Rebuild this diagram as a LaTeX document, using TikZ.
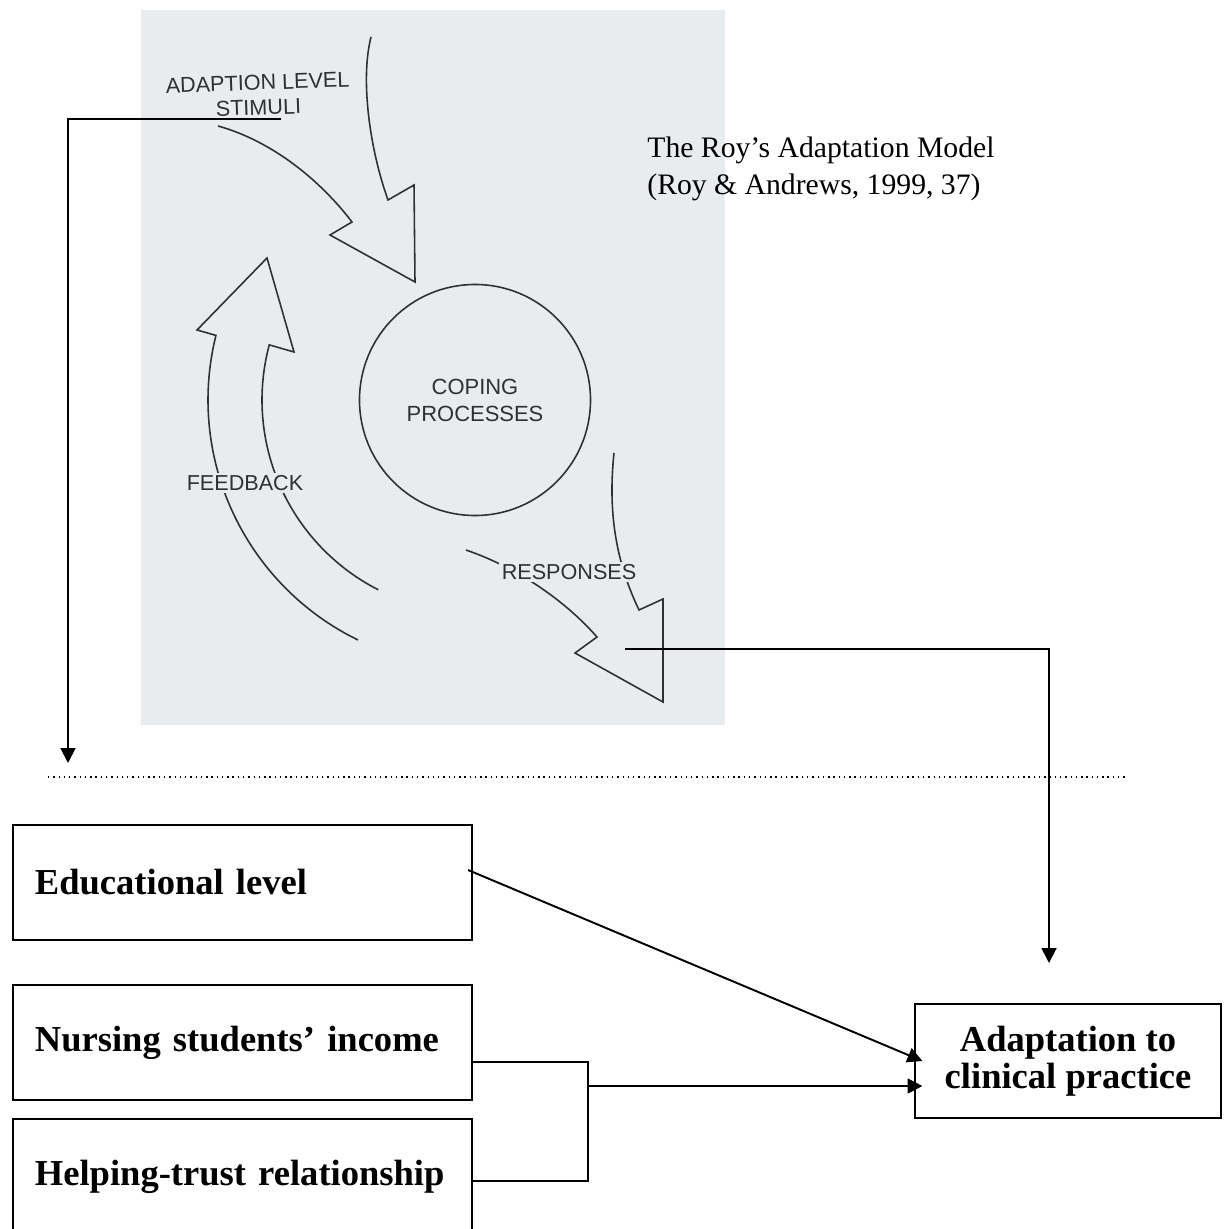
\documentclass[tikz,border=0pt]{standalone}
\usepackage{fontspec}
\setmainfont{Liberation Serif}
\newfontfamily\scanfont{Liberation Sans}
\usepackage{tikz}
\usetikzlibrary{arrows.meta,calc}
\definecolor{scangray}{HTML}{E8ECEF}
\definecolor{scanink}{HTML}{303030}

\begin{document}
\begin{tikzpicture}[x=0.02cm, y=-0.02cm,
		scanline/.style={draw=scanink, line width=0.9pt, line join=miter},
		scanlabel/.style={font=\scanfont\fontsize{12.3}{14.2}\selectfont, text=scanink, align=center, inner sep=1.5pt},
		box/.style={draw, line width=1.1pt, minimum height=65.2pt, text width=236.3pt, inner xsep=12.5pt, align=left, font=\bfseries\fontsize{20.8}{21}\selectfont},
		link/.style={line width=1.1pt, -{Triangle[length=8.5pt, width=8.5pt]}}]
		\useasboundingbox (0,0) rectangle (1225,1229);
		\clip (0,0) rectangle (1225,1229);
		% scanned model
		\fill[scangray] (141,10) rectangle (725,725);
		\node[scanline, circle, minimum size=131.5pt, inner sep=0pt, scanlabel, font=\scanfont\fontsize{12.5}{15.3}\selectfont] (coping) at (475,400) {COPING\\PROCESSES};
		% stimuli arrow
		\draw[scanline] (218,126) .. controls (272,141) and (320,180) .. (352,222) -- (330,235) -- (415,282) -- (414,185) -- (388,200) .. controls (370,150) and (360,80) .. (371,37);
		\node[scanlabel, rotate=2] (stimuli) at (258,95) {ADAPTION LEVEL\\STIMULI};
		\coordinate (stimuliout) at (281,119);
		% feedback arrow
		\draw[scanline] plot[smooth, domain=116:194, samples=40, variable=\a] ({475+267*cos(\a)}, {400+267*sin(\a)}) -- (197,330) -- (267,258) -- (294,352) --plot[smooth, domain=195:117, samples=40, variable=\a] ({475+213*cos(\a)}, {400+213*sin(\a)});
		\node[scanlabel, fill=scangray] (feedback) at (245,483) {FEEDBACK};
		% responses arrow
		\draw[scanline] (466,550) .. controls (510,565) and (560,595) .. (597,637) -- (575,653) -- (663,702) -- (663,599) -- (639,610) .. controls (615,560) and (608,510) .. (614,453);
		\node[scanlabel, fill=scangray] (responses) at (569,572) {RESPONSES};
		\coordinate (responsesout) at (625,649);
		
		% title
		\node[anchor=base west, inner sep=0pt, font=\fontsize{16.9}{21}\selectfont] (title) at (647,158) {The Roy’s Adaptation Model};
		\node[anchor=base west, inner sep=0pt, font=\fontsize{16.9}{21}\selectfont] (source) at (647,195) {(Roy \& Andrews, 1999, 37)};
		
		% divider
		\draw[line width=1.1pt, dash pattern=on 0.8pt off 2.2pt] (48,777) -- (1127,777);
		
		% factors and outcome
		\node[box] (edu) at (242.5,882.5) {Educational level};
		\node[box] (income) at (242.5,1042.5) {Nursing students’ income};
		\node[box, minimum height=65.8pt] (trust) at (242.5,1177) {Helping-trust relationship};
		\node[draw, line width=1.1pt, minimum width=174.6pt, minimum height=64.6pt, align=center, font=\bfseries\fontsize{20.8}{21}\selectfont] (adapt) at (1068,1061) {Adaptation to\\clinical practice};
		
		% connectors
		\coordinate (stimuliend) at (68,763);
		\draw[link] (stimuliout) -| (stimuliend);
		\coordinate (responsesend) at (1049,963);
		\draw[link] (responsesout) -| (responsesend);
		\draw[link] ([xshift=-2.8pt, yshift=7.1pt]edu.east) -- ([xshift=5pt]adapt.west);
		\coordinate (merge) at (588,1086);
		\draw[line width=1.1pt] ([yshift=-11.3pt]income.east) -| (merge) |- ([yshift=-2.3pt]trust.east);
		\draw[link, shorten >=-5pt] (merge) -- (merge -| adapt.west);
	\end{tikzpicture}
\end{document}
